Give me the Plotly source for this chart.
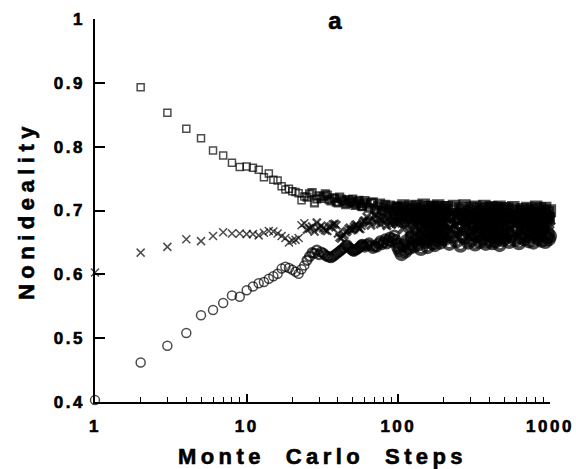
import plotly.graph_objects as go

# Monte Carlo steps at which the three nonideality estimates were sampled
steps = (list(range(1, 61)) + list(range(62, 101, 2)) + list(range(102, 199, 3))
         + list(range(201, 498, 8)) + list(range(505, 999, 17)))

squares = [
    # 1 - 60
    None, 0.893, 0.853, 0.828, 0.813, 0.794, 0.786, 0.775, 0.768, 0.769,
    0.767, 0.764, 0.752, 0.758, 0.748, 0.747, 0.738, 0.733, 0.734, 0.730,
    0.729, 0.727, 0.716, 0.722, 0.721, 0.726, 0.728, 0.712, 0.718, 0.723,
    0.719, 0.722, 0.726, 0.724, 0.717, 0.715, 0.720, 0.719, 0.713, 0.712,
    0.721, 0.718, 0.716, 0.714, 0.709, 0.711, 0.717, 0.713, 0.715, 0.718,
    0.712, 0.708, 0.710, 0.714, 0.716, 0.711, 0.707, 0.706, 0.712, 0.715,
    # 62 - 100
    0.709, 0.704, 0.712, 0.713, 0.702, 0.698, 0.707, 0.711, 0.700, 0.705,
    0.709, 0.697, 0.703, 0.708, 0.700, 0.694, 0.705, 0.699, 0.707, 0.702,
    # 102 - 198
    0.704, 0.697, 0.708, 0.693, 0.701, 0.689, 0.706, 0.698, 0.702, 0.691,
    0.707, 0.695, 0.700, 0.686, 0.703, 0.709, 0.694, 0.699, 0.688, 0.705,
    0.697, 0.692, 0.706, 0.700, 0.690, 0.703, 0.696, 0.708, 0.687, 0.701,
    0.694, 0.705, 0.698,
    # 201 - 497
    0.698, 0.705, 0.690, 0.701, 0.707, 0.694, 0.686, 0.703, 0.697, 0.708,
    0.692, 0.700, 0.688, 0.704, 0.696, 0.706, 0.691, 0.699, 0.685, 0.702,
    0.695, 0.707, 0.689, 0.703, 0.698, 0.693, 0.705, 0.687, 0.700, 0.696,
    0.704, 0.690, 0.701, 0.706, 0.692, 0.698, 0.688, 0.703,
    # 505 - 998
    0.697, 0.703, 0.690, 0.699, 0.705, 0.693, 0.700, 0.687, 0.696, 0.702,
    0.694, 0.699, 0.704, 0.691, 0.697, 0.701, 0.689, 0.695, 0.706, 0.692,
    0.698, 0.703, 0.694, 0.690, 0.699, 0.704, 0.693, 0.697, 0.688, 0.700,
]

crosses = [
    # 1 - 60
    0.603, 0.634, 0.643, 0.655, 0.652, 0.660, 0.666, 0.664, 0.664, 0.663,
    0.663, 0.661, 0.665, 0.668, 0.667, 0.664, 0.660, 0.657, 0.650, 0.653,
    0.654, 0.657, 0.677, 0.680, 0.670, 0.672, 0.675, 0.667, 0.681, 0.672,
    0.676, 0.672, 0.669, 0.668, 0.674, 0.675, 0.678, 0.679, 0.677, 0.664,
    0.658, 0.656, 0.660, 0.662, 0.666, 0.668, 0.671, 0.673, 0.669, 0.670,
    0.674, 0.677, 0.678, 0.675, 0.672, 0.671, 0.676, 0.680, 0.683, 0.684,
    # 62 - 100
    0.690, 0.683, 0.677, 0.686, 0.692, 0.681, 0.688, 0.679, 0.685, 0.691,
    0.683, 0.676, 0.687, 0.682, 0.678, 0.689, 0.684, 0.680, 0.686, 0.681,
    # 102 - 198
    0.684, 0.691, 0.672, 0.686, 0.679, 0.693, 0.668, 0.688, 0.681, 0.675,
    0.690, 0.683, 0.670, 0.687, 0.678, 0.694, 0.673, 0.685, 0.680, 0.689,
    0.676, 0.692, 0.682, 0.669, 0.686, 0.679, 0.691, 0.674, 0.688, 0.683,
    0.677, 0.690, 0.681,
    # 201 - 497
    0.681, 0.689, 0.672, 0.685, 0.678, 0.692, 0.668, 0.684, 0.687, 0.675,
    0.690, 0.679, 0.683, 0.670, 0.688, 0.676, 0.693, 0.681, 0.673, 0.686,
    0.680, 0.691, 0.669, 0.684, 0.677, 0.689, 0.674, 0.687, 0.682, 0.671,
    0.685, 0.692, 0.678, 0.683, 0.688, 0.676, 0.681, 0.690,
    # 505 - 998
    0.680, 0.686, 0.675, 0.683, 0.689, 0.678, 0.684, 0.672, 0.681, 0.687,
    0.676, 0.682, 0.688, 0.674, 0.680, 0.685, 0.677, 0.683, 0.670, 0.686,
    0.673, 0.681, 0.687, 0.678, 0.684, 0.676, 0.682, 0.691, 0.679, 0.685,
]

circles = [
    # 1 - 60
    0.403, 0.462, 0.488, 0.508, 0.536, 0.544, 0.555, 0.567, 0.565, 0.575,
    0.581, 0.586, 0.588, 0.593, 0.597, 0.601, 0.609, 0.612, 0.610, 0.607,
    0.604, 0.601, 0.608, 0.614, 0.622, 0.628, 0.634, 0.633, 0.638, 0.631,
    0.635, 0.633, 0.630, 0.628, 0.627, 0.626, 0.628, 0.630, 0.632, 0.634,
    0.636, 0.638, 0.640, 0.642, 0.645, 0.646, 0.643, 0.641, 0.639, 0.637,
    0.636, 0.638, 0.639, 0.640, 0.642, 0.644, 0.646, 0.647, 0.645, 0.643,
    # 62 - 100
    0.646, 0.649, 0.645, 0.641, 0.644, 0.643, 0.648, 0.652, 0.647, 0.650,
    0.655, 0.648, 0.653, 0.658, 0.651, 0.656, 0.661, 0.654, 0.649, 0.643,
    # 102 - 198
    0.638, 0.632, 0.645, 0.636, 0.652, 0.641, 0.648, 0.658, 0.644, 0.653,
    0.662, 0.647, 0.656, 0.640, 0.660, 0.666, 0.651, 0.657, 0.643, 0.664,
    0.655, 0.670, 0.649, 0.661, 0.646, 0.667, 0.654, 0.659, 0.672, 0.650,
    0.663, 0.657, 0.668,
    # 201 - 497
    0.655, 0.664, 0.648, 0.659, 0.667, 0.652, 0.672, 0.645, 0.661, 0.657,
    0.669, 0.650, 0.663, 0.654, 0.675, 0.647, 0.660, 0.666, 0.651, 0.671,
    0.656, 0.663, 0.648, 0.668, 0.653, 0.661, 0.674, 0.649, 0.658, 0.665,
    0.652, 0.670, 0.657, 0.646, 0.662, 0.668, 0.654, 0.660,
    # 505 - 998
    0.657, 0.663, 0.651, 0.660, 0.667, 0.654, 0.670, 0.649, 0.658, 0.665,
    0.655, 0.661, 0.668, 0.652, 0.659, 0.664, 0.650, 0.673, 0.663, 0.656,
    0.660, 0.666, 0.653, 0.671, 0.662, 0.651, 0.658, 0.664, 0.655, 0.660,
]

assert len(squares) == len(crosses) == len(circles) == len(steps)

x_tick_vals = [1, 10, 100, 1000]
x_tick_text = ["1", "10", "100", "1000"]
y_tick_vals = [0.4, 0.5, 0.6, 0.7, 0.8, 0.9, 1.0]
y_tick_text = ["0.4", "0.5", "0.6", "0.7", "0.8", "0.9", "1"]

FONT = "Liberation Sans, Arial, Helvetica, sans-serif"
INK = "black"


# heavier outlines where the printed symbols pile up into a solid band
def outline_width(s):
    if s < 25:
        return 1.5
    if s < 60:
        return 2.2
    if s < 100:
        return 2.8
    return 4.0


outline = [outline_width(s) for s in steps]
grow = [0 if s < 100 else 1.5 for s in steps]

fig = go.Figure()
series = [
    ("squares", squares, "square-open", 7),
    ("crosses", crosses, "x-thin-open", 8),
    ("circles", circles, "circle-open", 9),
]
for name, vals, sym, size in series:
    fig.add_trace(go.Scatter(
        x=steps, y=vals, mode="markers", name=name, cliponaxis=False,
        marker=dict(symbol=sym, size=[size + g for g in grow], color=INK,
                    line=dict(color=INK, width=outline)),
    ))

fig.update_layout(
    width=576, height=469,
    margin=dict(l=95, r=26, t=19, b=67),
    paper_bgcolor="white", plot_bgcolor="white",
    showlegend=False,
    font=dict(family=FONT, color=INK),
    title=dict(text="<b>a</b>", x=335 / 576, xanchor="center",
               y=1 - 21 / 469, yanchor="middle", yref="container",
               font=dict(size=24, family=FONT, color=INK)),
)
fig.update_xaxes(
    type="log", range=[0, 3], automargin=False,
    showline=True, linecolor=INK, linewidth=1.5, mirror=False,
    showgrid=False, zeroline=False,
    ticks="inside", ticklen=8, tickwidth=1.5, tickcolor=INK,
    tickmode="array", tickvals=x_tick_vals, ticktext=x_tick_text,
    tickfont=dict(size=17, family=FONT, color=INK, weight="bold"),
    ticklabelstandoff=8,
    minor=dict(ticks="inside", ticklen=5, tickwidth=1.2, tickcolor=INK,
               dtick="D1", showgrid=False),
    title=dict(text="\u00a0\u00a0Monte\u00a0\u00a0Carlo\u00a0\u00a0Steps",
               font=dict(size=22, family=FONT, color=INK, weight="bold"),
               standoff=15),
)
fig.update_yaxes(
    range=[0.4, 1.0], automargin=False,
    showline=True, linecolor=INK, linewidth=1.5, mirror=False,
    showgrid=False, zeroline=False,
    ticks="inside", ticklen=10, tickwidth=1.5, tickcolor=INK,
    tickmode="array", tickvals=y_tick_vals, ticktext=y_tick_text,
    tickfont=dict(size=17, family=FONT, color=INK, weight="bold"),
    ticklabelstandoff=5,
    title=dict(text="Nonideality",
               font=dict(size=22, family=FONT, color=INK, weight="bold"),
               standoff=21),
)

# widen the letter spacing of axis titles and tick labels, and thicken the glyphs
spacing_js = """
var gd = document.getElementById('{plot_id}');
function spread() {
  gd.querySelectorAll('.xtitle').forEach(function (t) { t.style.letterSpacing = '4.4px'; });
  gd.querySelectorAll('.ytitle').forEach(function (t) { t.style.letterSpacing = '5.5px'; });
  gd.querySelectorAll('.xtick text, .ytick text').forEach(function (t) { t.style.letterSpacing = '2.5px'; });
  gd.querySelectorAll('.xtitle, .ytitle, .xtick text, .ytick text, .gtitle').forEach(function (t) {
    t.style.stroke = 'black'; t.style.strokeWidth = '0.6px';
  });
}
spread();
gd.on('plotly_afterplot', spread);
"""

fig.write_html("out.html", post_script=spacing_js)
